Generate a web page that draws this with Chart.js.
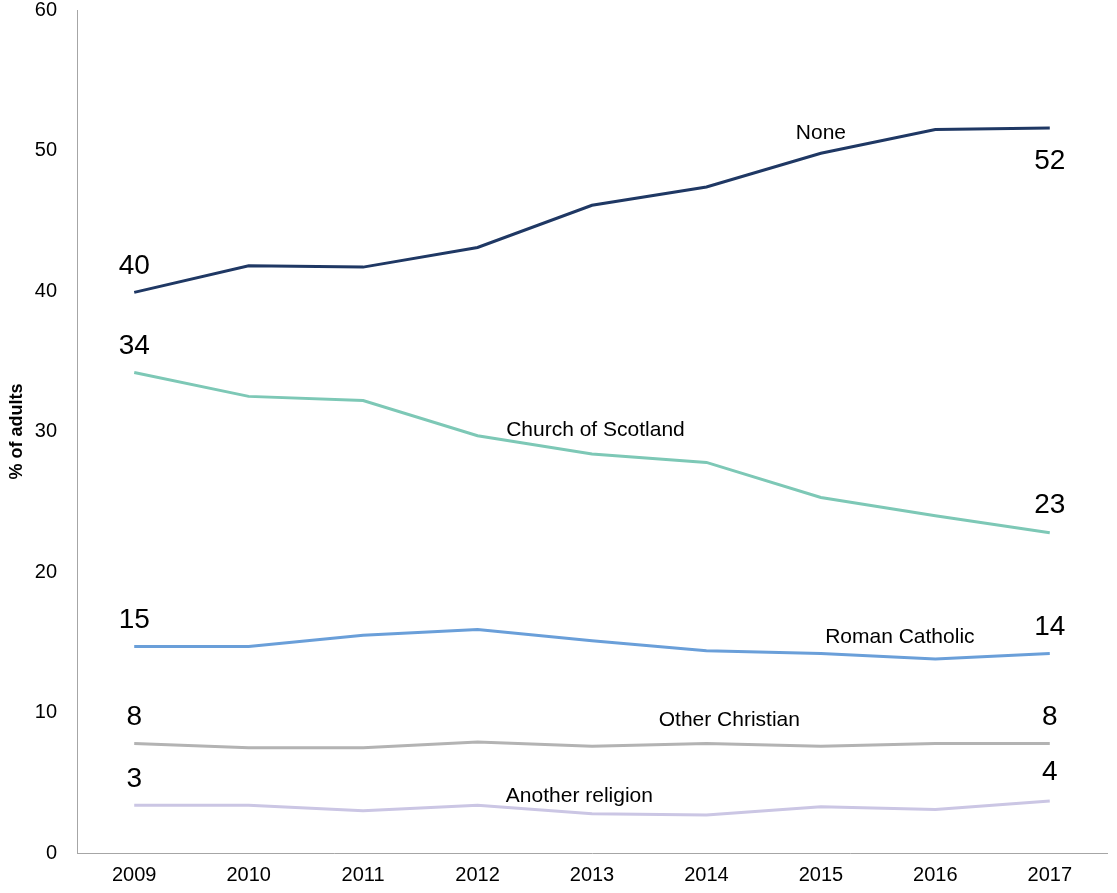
<!DOCTYPE html>
<html>
<head>
<meta charset="utf-8">
<script src="https://cdn.jsdelivr.net/npm/chart.js@4/dist/chart.umd.min.js"></script>
<style>
  html, body { margin: 0; padding: 0; background: #fff; }
  #wrap { width: 1117px; height: 893px; }
</style>
</head>
<body>
<div id="wrap"><canvas id="chart" width="1117" height="893"></canvas></div>
<script>
// Data
const YEARS = ["2009", "2010", "2011", "2012", "2013", "2014", "2015", "2016", "2017"];
const NONE = [39.9, 41.8, 41.7, 43.1, 46.1, 47.4, 49.8, 51.5, 51.6];
const CHURCH_OF_SCOTLAND = [34.2, 32.5, 32.2, 29.7, 28.4, 27.8, 25.3, 24.0, 22.8];
const ROMAN_CATHOLIC = [14.7, 14.7, 15.5, 15.9, 15.1, 14.4, 14.2, 13.8, 14.2];
const OTHER_CHRISTIAN = [7.8, 7.5, 7.5, 7.9, 7.6, 7.8, 7.6, 7.8, 7.8];
const ANOTHER_RELIGION = [3.4, 3.4, 3.0, 3.4, 2.8, 2.7, 3.3, 3.1, 3.7];
const Y_TICKS = [0, 10, 20, 30, 40, 50, 60];

const FONT = "'Liberation Sans', Arial, sans-serif";

// series name label: x position (category index), offset in px above the line there
// end labels: offset of first / last value label in px (negative = above)
const SERIES = [
    { name: "None", data: NONE, color: "#1f3864", lx: 6, ldy: -20, first: -26, last: 33 },
    { name: "Church of Scotland", data: CHURCH_OF_SCOTLAND, color: "#7dc8b6", lx: 4.03, ldy: -24, first: -26, last: -27 },
    { name: "Roman Catholic", data: ROMAN_CATHOLIC, color: "#6a9fd9", lx: 6.69, ldy: -20, first: -26, last: -26 },
    { name: "Other Christian", data: OTHER_CHRISTIAN, color: "#b3b3b3", lx: 5.2, ldy: -24, first: -26, last: -26 },
    { name: "Another religion", data: ANOTHER_RELIGION, color: "#cbc6e4", lx: 3.89, ldy: -17, first: -26, last: -29 }
];

const labelPlugin = {
    id: "seriesLabels",
    afterDatasetsDraw: (chart) => {
        const ctx = chart.ctx;
        const xs = chart.scales.x;
        const ys = chart.scales.y;
        ctx.save();
        ctx.fillStyle = "#000";
        ctx.textAlign = "center";
        ctx.textBaseline = "middle";
        SERIES.forEach((s) => {
            // series name
            const i0 = Math.floor(s.lx);
            const f = s.lx - i0;
            const i1 = Math.min(i0 + 1, s.data.length - 1);
            const v = s.data[i0] + (s.data[i1] - s.data[i0]) * f;
            const px = xs.getPixelForValue(i0) + (xs.getPixelForValue(i1) - xs.getPixelForValue(i0)) * f;
            ctx.font = "21px " + FONT;
            ctx.fillText(s.name, px, ys.getPixelForValue(v) + s.ldy);

            // first and last values
            ctx.font = "28px " + FONT;
            const n = s.data.length - 1;
            ctx.fillText(String(Math.round(s.data[0])), xs.getPixelForValue(0), ys.getPixelForValue(s.data[0]) + s.first);
            ctx.fillText(String(Math.round(s.data[n])), xs.getPixelForValue(n), ys.getPixelForValue(s.data[n]) + s.last);
        });
        ctx.restore();
    }
};

new Chart(document.getElementById("chart"), {
    type: "line",
    data: {
        labels: YEARS,
        datasets: SERIES.map((s) => {
            return {
                label: s.name,
                data: s.data,
                borderColor: s.color,
                backgroundColor: s.color,
                borderWidth: 3,
                pointRadius: 0,
                tension: 0,
                fill: false
            };
        })
    },
    options: {
        responsive: false,
        animation: false,
        layout: { padding: { top: 10, right: 10, left: 0, bottom: 0 } },
        plugins: {
            legend: { display: false },
            tooltip: { enabled: false }
        },
        scales: {
            x: {
                offset: true,
                grid: { display: false, drawTicks: false },
                border: { display: true, color: "#a6a6a6", width: 1 },
                ticks: { color: "#000", font: { family: FONT, size: 20 }, padding: 10, maxRotation: 0 },
                afterFit: (scale) => { scale.height = 40; }
            },
            y: {
                min: 0,
                max: 60,
                afterBuildTicks: (scale) => { scale.ticks = Y_TICKS.map((v) => ({ value: v })); },
                grid: { display: false, drawTicks: false },
                border: { display: true, color: "#a6a6a6", width: 1 },
                ticks: { color: "#000", font: { family: FONT, size: 20 }, padding: 20 },
                title: {
                    display: true,
                    text: "% of adults",
                    color: "#000",
                    font: { family: FONT, size: 18, weight: "bold" },
                    padding: { top: 6, bottom: 0 }
                },
                afterFit: (scale) => {
                    scale.width = 77;
                    scale.paddingTop = 0;
                    scale.paddingBottom = 0;
                }
            }
        }
    },
    plugins: [labelPlugin]
});
</script>
</body>
</html>
